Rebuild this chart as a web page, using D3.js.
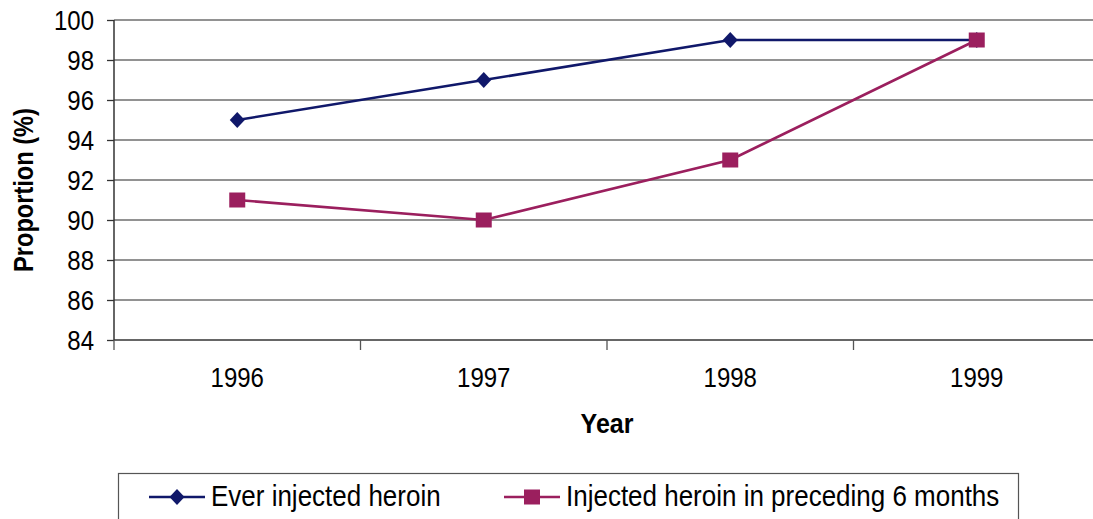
<!DOCTYPE html>
<html>
<head>
<meta charset="utf-8">
<script src="https://cdn.jsdelivr.net/npm/d3@7"></script>
<style>
  body { margin: 0; background: #fff; }
  text { font-family: "Liberation Sans", Arial, sans-serif; }
</style>
</head>
<body>
<svg class="chart" width="1093" height="519"></svg>
<script>
var years = ["1996", "1997", "1998", "1999"];
var everInjected = [95, 97, 99, 99];
var injected6m = [91, 90, 93, 99];
var yTicks = [84, 86, 88, 90, 92, 94, 96, 98, 100];
var seriesNames = ["Ever injected heroin", "Injected heroin in preceding 6 months"];

var margin = {top: 20, left: 114};
var width = 986, height = 320;
var stretch = 1.14; // text in the picture is a little taller than wide

var svg = d3.select(".chart");
var chart = svg.append("g")
  .attr("transform", "translate(" + margin.left + "," + margin.top + ")");

var x = d3.scaleBand().domain(years).range([0, width]);
var y = d3.scaleLinear().domain([84, 100]).range([height, 0]);

function place(sel, px, py) {
  sel.attr("transform", "translate(" + px + "," + py + ") scale(1," + stretch + ")");
}

// gridlines
chart.selectAll(".grid")
  .data(yTicks.slice(1))
  .enter().append("line")
  .attr("x1", 0).attr("x2", width)
  .attr("y1", function(d) { return y(d); })
  .attr("y2", function(d) { return y(d); })
  .style("stroke", "#6e6e6e")
  .style("stroke-width", 1.6);

var yAxis = d3.axisLeft(y).tickValues(yTicks).tickSize(7).tickPadding(13);
var yg = chart.append("g").call(yAxis);
yg.selectAll("text")
  .style("font-size", "24px").attr("fill", "#000")
  .attr("dy", "0.33em")
  .attr("transform", "scale(1," + stretch + ")");
yg.selectAll(".tick line").style("stroke", "#333").style("stroke-width", 1.3);
yg.select(".domain").style("stroke", "#333").style("stroke-width", 1.5).attr("d", "M0,0V" + height);

// x axis with tick marks at band boundaries
var xg = chart.append("g").attr("transform", "translate(0," + height + ")");
xg.append("line").attr("x1", 0).attr("x2", width)
  .style("stroke", "#333").style("stroke-width", 1.5);
xg.selectAll(".xtick")
  .data(years.concat(["end"]))
  .enter().append("line")
  .attr("x1", function(d, i) { return i * x.bandwidth(); })
  .attr("x2", function(d, i) { return i * x.bandwidth(); })
  .attr("y1", 0).attr("y2", 10)
  .style("stroke", "#555").style("stroke-width", 1.3);
xg.selectAll(".xlabel")
  .data(years)
  .enter().append("text")
  .attr("text-anchor", "middle")
  .style("font-size", "24px")
  .each(function(d) { place(d3.select(this), x(d) + x.bandwidth() / 2, 47); })
  .text(function(d) { return d; });

// axis titles
svg.append("text")
  .attr("text-anchor", "middle")
  .style("font-size", "25px").style("font-weight", "bold")
  .call(place, margin.left + x("1997") + x.bandwidth(), 433)
  .text("Year");
svg.append("text")
  .attr("transform", "translate(33,190) rotate(-90) scale(1," + stretch + ")")
  .attr("text-anchor", "middle")
  .style("font-size", "23.6px").style("font-weight", "bold")
  .text("Proportion (%)");

var colours = ["#10186a", "#9b1f5e"];
var diamond = "M0,-8L7.5,0L0,8L-7.5,0Z";
var square = "M-8,-7.5H8V7.5H-8Z";
var line = d3.line()
  .x(function(d, i) { return x(years[i]) + x.bandwidth() / 2; })
  .y(function(d) { return y(d); });

[everInjected, injected6m].forEach(function(vals, s) {
  chart.append("path")
    .datum(vals)
    .attr("d", line)
    .style("fill", "none")
    .style("stroke", colours[s])
    .style("stroke-width", 2.6);
  chart.selectAll(".m" + s)
    .data(vals)
    .enter().append("path")
    .attr("transform", function(d, i) {
      return "translate(" + (x(years[i]) + x.bandwidth() / 2) + "," + y(d) + ")";
    })
    .attr("d", s === 0 ? diamond : square)
    .style("fill", colours[s]);
});

// legend
var legend = svg.append("g");
legend.append("rect")
  .attr("x", 118.5).attr("y", 473.5)
  .attr("width", 900).attr("height", 60)
  .style("fill", "#fff").style("stroke", "#555").style("stroke-width", 1.2);

var legendX = [149, 504];
seriesNames.forEach(function(name, s) {
  var g = legend.append("g").attr("transform", "translate(" + legendX[s] + ",497)");
  g.append("line").attr("x1", 0).attr("x2", 56)
    .style("stroke", colours[s]).style("stroke-width", 2.6);
  g.append("path")
    .attr("transform", "translate(28,0)")
    .attr("d", s === 0 ? diamond : square)
    .style("fill", colours[s]);
  g.append("text")
    .style("font-size", "26px")
    .call(place, 62, 9)
    .text(name);
});
</script>
</body>
</html>
